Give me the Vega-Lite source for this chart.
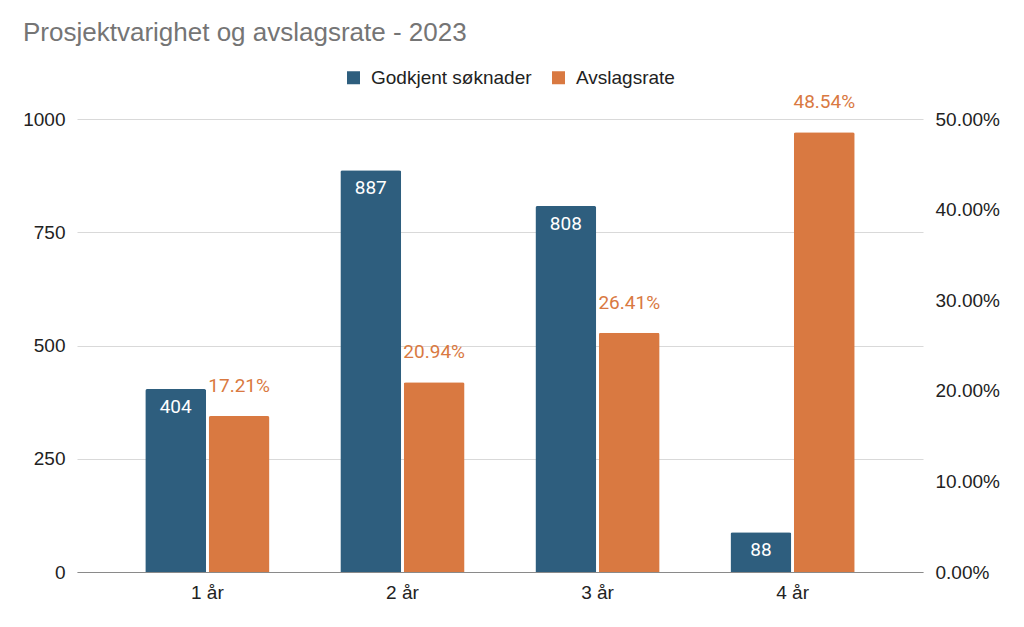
{
  "$schema": "https://vega.github.io/schema/vega-lite/v6.json",
  "width": 846,
  "height": 453,
  "autosize": {"type": "none"},
  "padding": {"left": 77, "top": 119, "right": 101, "bottom": 55},
  "background": "white",
  "title": {
    "text": "Prosjektvarighet og avslagsrate - 2023",
    "anchor": "start",
    "frame": "group",
    "dx": -54,
    "offset": 22,
    "font": "Liberation Sans",
    "fontSize": 26,
    "fontWeight": "normal",
    "color": "#757575"
  },
  "data": {
    "values": [
      {"aar": "1 år", "serie": "Godkjent søknader", "verdi": 404},
      {"aar": "2 år", "serie": "Godkjent søknader", "verdi": 887},
      {"aar": "3 år", "serie": "Godkjent søknader", "verdi": 808},
      {"aar": "4 år", "serie": "Godkjent søknader", "verdi": 88},
      {"aar": "1 år", "serie": "Avslagsrate", "verdi": 0.1721},
      {"aar": "2 år", "serie": "Avslagsrate", "verdi": 0.2094},
      {"aar": "3 år", "serie": "Avslagsrate", "verdi": 0.2641},
      {"aar": "4 år", "serie": "Avslagsrate", "verdi": 0.4854}
    ]
  },
  "encoding": {
    "x": {
      "field": "aar",
      "type": "nominal",
      "scale": {"paddingInner": 0.363, "paddingOuter": 0.35},
      "axis": {
        "title": null,
        "labelAngle": 0,
        "ticks": false,
        "domain": true,
        "domainColor": "#8a8a8a",
        "domainWidth": 1,
        "labelPadding": 11,
        "labelFont": "Liberation Sans",
        "labelFontSize": 19,
        "labelColor": "#222222",
        "grid": false
      }
    },
    "xOffset": {
      "field": "serie",
      "type": "nominal",
      "scale": {"domain": ["Godkjent søknader", "Avslagsrate"], "paddingInner": 0.04}
    }
  },
  "layer": [
    {
      "transform": [{"filter": "datum.serie === 'Godkjent søknader'"}],
      "encoding": {
        "y": {
          "field": "verdi",
          "type": "quantitative",
          "scale": {"domain": [0, 1000], "nice": false},
          "axis": {
            "orient": "left",
            "title": null,
            "values": [0, 250, 500, 750, 1000],
            "format": "d",
            "grid": true,
            "gridColor": "#d9d9d9",
            "domain": false,
            "ticks": false,
            "labelPadding": 12,
            "labelFont": "Liberation Sans",
            "labelFontSize": 19,
            "labelColor": "#222222"
          }
        }
      },
      "layer": [
        {
          "mark": {"type": "bar", "cornerRadiusEnd": 2},
          "encoding": {
            "color": {
              "field": "serie",
              "type": "nominal",
              "scale": {"domain": ["Godkjent søknader", "Avslagsrate"], "range": ["#2e5e7e", "#d97941"]},
              "legend": {
                "title": null,
                "orient": "none",
                "legendX": 267,
                "legendY": -51,
                "direction": "horizontal",
                "symbolType": "square",
                "symbolSize": 169,
                "symbolStrokeWidth": 0,
                "labelFont": "Liberation Sans",
                "labelFontSize": 19,
                "labelColor": "#222222",
                "labelOffset": 8,
                "labelLimit": 0,
                "columnPadding": 17,
                "padding": 0
              }
            }
          }
        },
        {
          "mark": {"type": "text", "baseline": "alphabetic", "dy": 24, "color": "white", "font": "Roboto", "fontSize": 19},
          "encoding": {"text": {"field": "verdi", "type": "quantitative", "format": "d"}}
        }
      ]
    },
    {
      "transform": [{"filter": "datum.serie === 'Avslagsrate'"}],
      "encoding": {
        "y": {
          "field": "verdi",
          "type": "quantitative",
          "scale": {"domain": [0, 0.5], "nice": false},
          "axis": {
            "orient": "right",
            "title": null,
            "values": [0, 0.1, 0.2, 0.3, 0.4, 0.5],
            "format": ".2%",
            "grid": false,
            "domain": false,
            "ticks": false,
            "labelPadding": 12,
            "labelFont": "Liberation Sans",
            "labelFontSize": 19,
            "labelColor": "#222222"
          }
        }
      },
      "layer": [
        {
          "mark": {"type": "bar", "cornerRadiusEnd": 2},
          "encoding": {
            "color": {"field": "serie", "type": "nominal"}
          }
        },
        {
          "mark": {"type": "text", "baseline": "alphabetic", "dy": -24, "color": "#d97941", "font": "Roboto", "fontSize": 19},
          "encoding": {"text": {"field": "verdi", "type": "quantitative", "format": ".2%"}}
        }
      ]
    }
  ],
  "resolve": {"scale": {"y": "independent"}},
  "config": {"view": {"stroke": null}}
}
